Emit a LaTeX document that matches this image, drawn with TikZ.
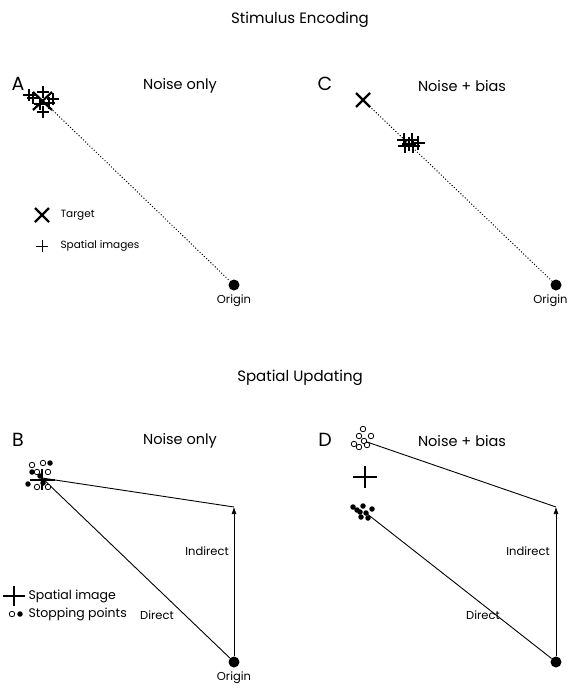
\documentclass[tikz,border=0pt]{standalone}
\usepackage{fontspec}
\setmainfont{Poppins}
\usetikzlibrary{positioning,calc,arrows.meta}
\begin{document}
\begin{tikzpicture}[x=1pt,y=-1pt,
  title/.style={font=\fontsize{15}{18}\selectfont},
  letter/.style={font=\fontsize{19}{22}\selectfont},
  sub/.style={font=\fontsize{14.5}{16}\selectfont},
  small/.style={font=\fontsize{11.5}{13}\selectfont},
  leg/.style={font=\fontsize{10.5}{12}\selectfont, anchor=west},
  legb/.style={font=\fontsize{12.5}{14}\selectfont, anchor=west},
  dot/.style={circle, fill=black, inner sep=0pt, minimum size=11pt},
  odot/.style={circle, draw=black, line width=0.8pt, fill=white, inner sep=0pt, minimum size=5.5pt},
  fdot/.style={circle, fill=black, inner sep=0pt, minimum size=5.5pt},
  dotline/.style={dotted, line width=1pt},
  conn/.style={line width=0.9pt},
  pl/.style={line width=1.1pt},
  bigpl/.style={line width=2.6pt},
  xm/.style={line width=2.2pt}]
\useasboundingbox (0,0) rectangle (569,688);

% titles
\node[title] (t1) at (300,20) {Stimulus Encoding};
\node[title] (t2) at (300,378) {Spatial Updating};

% ---------------- Panel A
\node[letter] (la) at (18,84) {A};
\node[sub] (sa) at (180,86) {Noise only};
\coordinate (ta) at (42,100);
\node[dot] (oa) at (234,285) {};
\node[small, anchor=north] (oal) at ($(oa.south)+(0,1)$) {Origin};
\draw[dotline] (ta) -- (oa);
\foreach \px/\py in {29/95,43/92,53/99,43/112,33/98,49/103,40/104}{
  \draw[pl] (\px-6,\py) -- (\px+6,\py) (\px,\py-6) -- (\px,\py+6);
}
\draw[xm] (33,92) -- (52,110) (33,110) -- (52,92);
% legend
\coordinate (lxa) at (42,215);
\draw[xm] ($(lxa)+(-7,-7)$) -- ($(lxa)+(7,7)$) ($(lxa)+(-7,7)$) -- ($(lxa)+(7,-7)$);
\node[leg] (lxt) at (57,215) {Target};
\coordinate (lpa) at (42,246);
\draw[line width=0.9pt] ($(lpa)+(-6,0)$) -- ($(lpa)+(6,0)$) ($(lpa)+(0,-6)$) -- ($(lpa)+(0,6)$);
\node[leg] (lpt) at (57,246) {Spatial images};

% ---------------- Panel C
\node[letter] (lc) at (325,84) {C};
\node[sub] (sc) at (462,86) {Noise + bias};
\coordinate (tc) at (363,100);
\node[dot] (oc) at (556,285) {};
\node[small, anchor=north east] (ocl) at ($(oc.south)+(15,1)$) {Origin};
\draw[dotline] (tc) -- (oc);
\draw[xm] (356,93) -- (370,107) (356,107) -- (370,93);
\foreach \px/\py in {404/140,405/146,412/140,413/146,418/143,409/144}{
  \draw[pl] (\px-7,\py) -- (\px+7,\py) (\px,\py-7) -- (\px,\py+7);
}

% ---------------- Panel B
\node[letter] (lb) at (18,440) {B};
\node[sub] (sb) at (180,441) {Noise only};
\coordinate (cb) at (42,478);
\coordinate (ab) at (234,507);
\node[dot] (ob) at (234,662) {};
\node[small, anchor=north] (obl) at ($(ob.south)+(0,1)$) {Origin};
\draw[conn] (cb) -- (ab);
\draw[conn] (cb) -- (ob);
\draw[line width=0.6pt, -{Latex[length=7pt,width=5pt]}] (ob) -- (ab);
\foreach \px/\py in {32/465,43/463,48/472,37/472,37/487,48/487}{
  \node[odot] at (\px,\py) {};
}
\foreach \px/\py in {50/463,32/472,28/484,43/483,40/476}{
  \node[fdot] at (\px,\py) {};
}
\draw[bigpl] (30,480) -- (55,480) (42,469) -- (42,490);
\node[small] (ib) at (207,551) {Indirect};
\node[small] (db) at (157,615) {Direct};
% legend
\coordinate (lsb) at (14,596);
\draw[bigpl] ($(lsb)+(-11,0)$) -- ($(lsb)+(11,0)$) ($(lsb)+(0,-10)$) -- ($(lsb)+(0,10)$);
\node[legb] (lst) at (25,596) {Spatial image};
\node[odot] (lo) at (12,614) {};
\node[fdot] (lf) at (20,614) {};
\node[legb] (lft) at (25,614) {Stopping points};

% ---------------- Panel D
\node[letter] (ld) at (325,440) {D};
\node[sub] (sd) at (462,441) {Noise + bias};
\coordinate (cdo) at (367,442);
\coordinate (cdf) at (366,513);
\coordinate (ad) at (556,507);
\node[dot] (od) at (556,662) {};
\draw[conn] (cdo) -- (ad);
\draw[conn] (cdf) -- (od);
\draw[line width=0.6pt, -{Latex[length=7pt,width=5pt]}] (od) -- (ad);
\foreach \px/\py in {363/429,359/436,371/436,354/444,364/441,359/447,367/445}{
  \node[odot] at (\px,\py) {};
}
\draw[bigpl] (353,477) -- (377,477) (365,466) -- (365,488);
\foreach \px/\py in {353/507,363/506,360/512,372/509,366/513,361/517,368/518,357/510}{
  \node[fdot] at (\px,\py) {};
}
\node[small] (id) at (528,551) {Indirect};
\node[small] (dd) at (483,615) {Direct};
\end{tikzpicture}
\end{document}
